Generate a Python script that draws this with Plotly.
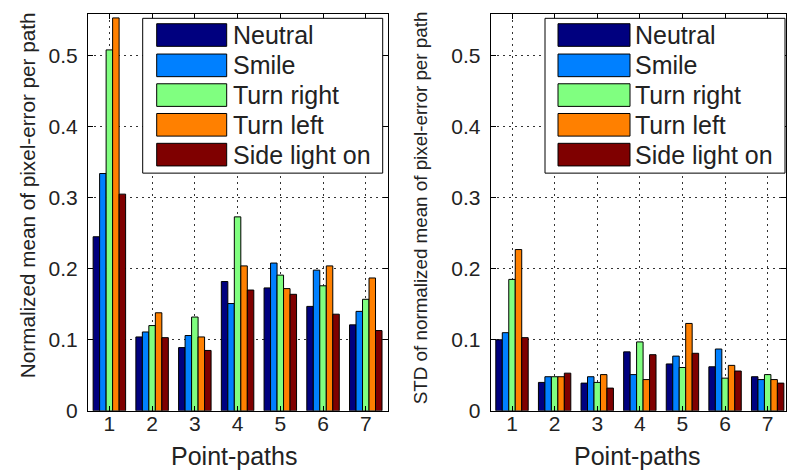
import plotly.graph_objects as go

W, H = 787, 474
SY = 0.976  # compensates the slight vertical squeeze observed in the rendered page

categories = [1, 2, 3, 4, 5, 6, 7]
tick_labels = ["1", "2", "3", "4", "5", "6", "7"]
series_names = ["Neutral", "Smile", "Turn right", "Turn left", "Side light on"]
series_colors = ["#00007F", "#0080FF", "#80FF80", "#FF8000", "#7F0000"]

mean_neutral = [0.245, 0.104, 0.089, 0.182, 0.173, 0.147, 0.121]
mean_smile = [0.334, 0.111, 0.106, 0.151, 0.208, 0.198, 0.140]
mean_turn_right = [0.508, 0.120, 0.132, 0.273, 0.191, 0.176, 0.157]
mean_turn_left = [0.553, 0.138, 0.104, 0.204, 0.172, 0.204, 0.187]
mean_side_light = [0.305, 0.103, 0.085, 0.170, 0.164, 0.136, 0.113]

std_neutral = [0.100, 0.040, 0.039, 0.083, 0.066, 0.062, 0.048]
std_smile = [0.110, 0.048, 0.048, 0.051, 0.077, 0.087, 0.044]
std_turn_right = [0.185, 0.048, 0.040, 0.097, 0.061, 0.046, 0.051]
std_turn_left = [0.227, 0.048, 0.051, 0.044, 0.123, 0.064, 0.044]
std_side_light = [0.103, 0.053, 0.032, 0.079, 0.081, 0.056, 0.039]

mean_series = [mean_neutral, mean_smile, mean_turn_right, mean_turn_left, mean_side_light]
std_series = [std_neutral, std_smile, std_turn_right, std_turn_left, std_side_light]

FONT = "Liberation Sans, Arial, Helvetica, sans-serif"
TXT = "#222222"

fig = go.Figure()
for name, color, vals in zip(series_names, series_colors, mean_series):
    fig.add_trace(go.Bar(x=categories, y=vals, name=name,
                         marker=dict(color=color, line=dict(color="black", width=1)),
                         xaxis="x", yaxis="y", showlegend=False))
for name, color, vals in zip(series_names, series_colors, std_series):
    fig.add_trace(go.Bar(x=categories, y=vals, name=name,
                         marker=dict(color=color, line=dict(color="black", width=1)),
                         xaxis="x2", yaxis="y2", showlegend=False))


def px_x(p):
    return p / W


def px_y(p):
    return 1 - (p / SY) / H


axis_common = dict(
    showline=True, linecolor="black", linewidth=1, mirror="ticks",
    ticks="inside", ticklen=5, tickcolor="black",
    showgrid=True, gridcolor="#333333", griddash="2px,4px", gridwidth=1,
    zeroline=False, tickfont=dict(family=FONT, size=21, color=TXT),
)

fig.update_layout(
    width=W, height=H,
    margin=dict(l=0, r=0, t=0, b=0),
    paper_bgcolor="white", plot_bgcolor="white",
    barmode="group", bargap=0.24, bargroupgap=0,
    font=dict(family=FONT, color=TXT),
    xaxis=dict(domain=[px_x(88), px_x(388)], range=[0.5, 7.52], tickvals=categories, ticktext=tick_labels,
               anchor="y", ticklabelstandoff=-6, **axis_common),
    yaxis=dict(domain=[px_y(410.5), px_y(14)], range=[0, 0.5585], dtick=0.1, anchor="x",
               ticklabelstandoff=5, **axis_common),
    xaxis2=dict(domain=[px_x(490.7), px_x(786)], range=[0.5, 7.43], tickvals=categories, ticktext=tick_labels,
                anchor="y2", ticklabelstandoff=-6, **axis_common),
    yaxis2=dict(domain=[px_y(410.5), px_y(14)], range=[0, 0.5585], dtick=0.1, anchor="x2",
                ticklabelstandoff=5, **axis_common),
)

shapes = []
annotations = []

# axis titles
for xc in (234, 637):
    annotations.append(dict(xref="paper", yref="paper", x=px_x(xc), y=px_y(456), text="Point-paths",
                            showarrow=False, xanchor="center", yanchor="middle",
                            font=dict(family=FONT, size=25, color=TXT)))
annotations.append(dict(xref="paper", yref="paper", x=px_x(27), y=px_y(195),
                        text="Normalized mean of pixel-error per path",
                        showarrow=False, xanchor="center", yanchor="middle", textangle=-90,
                        font=dict(family=FONT, size=20.7, color=TXT)))
annotations.append(dict(xref="paper", yref="paper", x=px_x(420), y=px_y(208),
                        text="STD of normalized mean of pixel-error per path",
                        showarrow=False, xanchor="center", yanchor="middle", textangle=-90,
                        font=dict(family=FONT, size=18.8, color=TXT)))

# Manual legends (MATLAB style large patches)
legend_boxes = [
    dict(x0=142.7, x1=382.7, px0=156.7, px1=226.7, tx=231),
    dict(x0=545, x1=785, px0=558, px1=630, tx=633),
]
row_centers = [35, 65.3, 95, 124.7, 154.5]
for lb in legend_boxes:
    shapes.append(dict(type="rect", xref="paper", yref="paper",
                       x0=px_x(lb["x0"]), x1=px_x(lb["x1"]), y0=px_y(173), y1=px_y(18.3),
                       fillcolor="white", line=dict(color="black", width=1), layer="above"))
    for name, color, yc in zip(series_names, series_colors, row_centers):
        shapes.append(dict(type="rect", xref="paper", yref="paper",
                           x0=px_x(lb["px0"]), x1=px_x(lb["px1"]), y0=px_y(yc + 11.3), y1=px_y(yc - 11.3),
                           fillcolor=color, line=dict(color="black", width=1), layer="above"))
        annotations.append(dict(xref="paper", yref="paper", x=px_x(lb["tx"]), y=px_y(yc),
                                xanchor="left", yanchor="middle", showarrow=False, text=name,
                                font=dict(family=FONT, size=25, color=TXT)))

fig.update_layout(shapes=shapes, annotations=annotations)

# remove the default 8px page margin so the 787x474 figure fills the window exactly
fig.write_html("out.html", config={"displayModeBar": False},
               post_script="document.body.style.margin='0';document.body.style.overflow='hidden';")
